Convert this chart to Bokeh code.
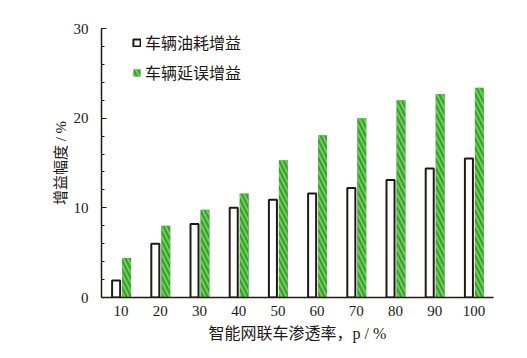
from bokeh.plotting import figure
from bokeh.models import ColumnDataSource, FactorRange, Range1d, Legend, LegendItem, FixedTicker
from bokeh.transform import dodge
from bokeh.embed import file_html
from bokeh.resources import INLINE

categories = ["10", "20", "30", "40", "50", "60", "70", "80", "90", "100"]
fuel_gain = [1.9, 6.0, 8.2, 10.0, 10.9, 11.6, 12.2, 13.1, 14.4, 15.5]
delay_gain = [4.4, 8.0, 9.8, 11.6, 15.3, 18.1, 20.0, 22.0, 22.7, 23.4]
series_names = ["车辆油耗增益", "车辆延误增益"]
y_ticks = [0, 10, 20, 30]

src = ColumnDataSource(dict(cat=categories, fuel=fuel_gain, delay=delay_gain))

AX = "#231815"
SERIF = "Liberation Serif, Noto Sans CJK SC"

p = figure(width=513, height=347, output_backend="svg", toolbar_location=None,
           x_range=FactorRange(*categories, range_padding=0),
           y_range=Range1d(0, 30))
p.min_border_left = 101
p.min_border_right = 20
p.min_border_top = 28
p.min_border_bottom = 50
p.outline_line_color = None
p.grid.grid_line_color = None
p.background_fill_color = "white"

r1 = p.vbar(x=dodge("cat", -0.127, range=p.x_range), top="fuel", width=0.205, source=src,
            fill_color="white", line_color=AX, line_width=2)
r2 = p.vbar(x=dodge("cat", 0.14, range=p.x_range), top="delay", width=0.23, source=src,
            fill_color="#1ca549", line_color=None,
            hatch_pattern="left_diagonal_line", hatch_color="#8cc540",
            hatch_weight=2.0, hatch_scale=9)

# axes
p.yaxis.ticker = FixedTicker(ticks=y_ticks, minor_ticks=list(range(0, 31, 2)))
p.yaxis.major_tick_in = 5
p.yaxis.major_tick_out = 0
p.yaxis.minor_tick_in = 3
p.yaxis.minor_tick_out = 0
p.yaxis.major_tick_line_color = AX
p.yaxis.minor_tick_line_color = AX
p.yaxis.major_label_standoff = 13
p.yaxis.axis_label = "增益幅度 / %"
p.yaxis.axis_label_standoff = 2

p.xaxis.major_tick_line_color = None
p.xaxis.minor_tick_line_color = None
p.xaxis.major_tick_in = 0
p.xaxis.major_tick_out = 0
p.xaxis.major_label_standoff = 8
p.xaxis.axis_label = "智能网联车渗透率，p / %"
p.xaxis.axis_label_standoff = 6

for ax in (p.xaxis, p.yaxis):
    ax.axis_line_color = AX
    ax.axis_line_width = 1.5
    ax.major_label_text_font = SERIF
    ax.major_label_text_font_size = "15px"
    ax.major_label_text_color = AX
    ax.axis_label_text_font = SERIF
    ax.axis_label_text_font_style = "normal"
    ax.axis_label_text_color = AX
p.xaxis.axis_label_text_font_size = "16px"
p.yaxis.axis_label_text_font_size = "15px"

legend = Legend(items=[LegendItem(label=series_names[0], renderers=[r1]),
                       LegendItem(label=series_names[1], renderers=[r2])],
                location=(31, 213), orientation="vertical")
legend.border_line_alpha = 0
legend.background_fill_alpha = 0
legend.padding = 0
legend.margin = 0
legend.glyph_width = 9
legend.glyph_height = 9
legend.label_height = 20
legend.spacing = 6
legend.label_standoff = 4
legend.label_text_font = SERIF
legend.label_text_font_size = "16px"
legend.label_text_color = AX
p.add_layout(legend)

open("out.html", "w").write(file_html(p, INLINE))
